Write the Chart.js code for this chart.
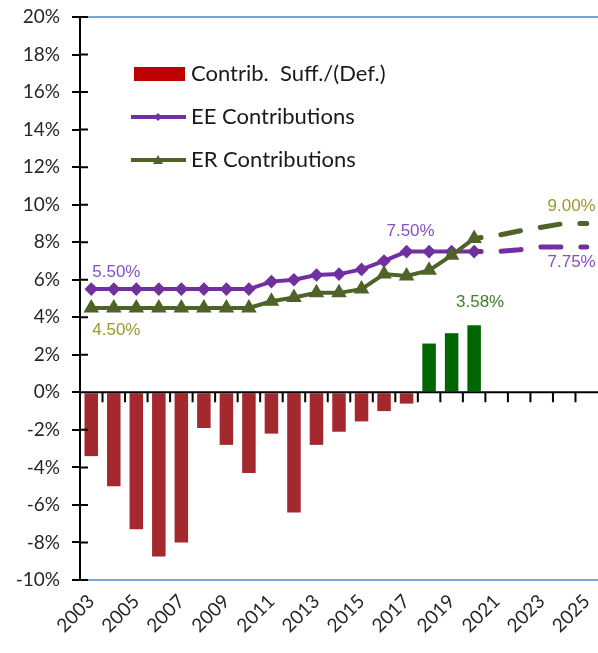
<!DOCTYPE html>
<html>
<head>
<meta charset="utf-8">
<script src="https://cdn.jsdelivr.net/npm/chart.js@4/dist/chart.umd.min.js"></script>
<style>
  body { margin: 0; background: #fff; }
  #wrap { width: 598px; height: 653px; }
</style>
</head>
<body>
<div id="wrap"><canvas id="contrib-chart"></canvas></div>
<script>
// Plan years
const years = ["2003","2004","2005","2006","2007","2008","2009","2010","2011","2012","2013",
  "2014","2015","2016","2017","2018","2019","2020","2021","2022","2023","2024","2025"];

// Contribution sufficiency / (deficiency), % of pay
const suffDef = [-3.4, -5.0, -7.3, -8.75, -8.0, -1.9, -2.8, -4.3, -2.2, -6.4, -2.8,
  -2.1, -1.55, -1.0, -0.6, 2.6, 3.15, 3.58, null, null, null, null, null];

// Employee contribution rate, % of pay (2020 on is projected)
const eeRate = [5.5, 5.5, 5.5, 5.5, 5.5, 5.5, 5.5, 5.5, 5.9, 6.0, 6.25,
  6.3, 6.55, 7.0, 7.5, 7.5, 7.5, 7.5, 7.5, 7.6, 7.75, 7.75, 7.75];

// Employer contribution rate, % of pay (2020 on is projected)
const erRate = [4.5, 4.5, 4.5, 4.5, 4.5, 4.5, 4.5, 4.5, 4.85, 5.05, 5.3,
  5.3, 5.5, 6.3, 6.2, 6.5, 7.3, 8.2, 8.35, 8.6, 8.8, 9.0, 9.0];

const yTicks = [-10, -8, -6, -4, -2, 0, 2, 4, 6, 8, 10, 12, 14, 16, 18, 20];

const lastActual = 17; // index of 2020, projections are dashed after it
const tickFont = { family: "Lato", size: 19 };
const labelFont = "17px 'Liberation Sans'";

// Point labels drawn next to chosen points
const pointLabels = [
  { ds: 1, i: 0, text: "5.50%", color: "#8650C4", align: "left", dx: 1, dy: -17 },
  { ds: 2, i: 0, text: "4.50%", color: "#9C9832", align: "left", dx: 1, dy: 22 },
  { ds: 1, i: 14, text: "7.50%", color: "#8650C4", align: "center", dx: 4, dy: -20 },
  { ds: 2, i: 22, text: "9.00%", color: "#9C9832", align: "right", dx: 9, dy: -17 },
  { ds: 1, i: 22, text: "7.75%", color: "#8650C4", align: "right", dx: 9, dy: 15 },
  { ds: 0, i: 17, text: "3.58%", color: "#3F7F2A", align: "center", dx: 6, dy: -23 }
];

// Draws the zero line, axis cross ticks, the point labels and the legend
const decorPlugin = {
  id: "decor",
  afterDatasetsDraw(chart) {
    const ctx = chart.ctx;
    const area = chart.chartArea;
    const x = chart.scales.x;
    const y = chart.scales.y;
    const y0 = y.getPixelForValue(0);

    ctx.save();
    ctx.strokeStyle = "#000";
    ctx.lineWidth = 2;
    ctx.beginPath();
    ctx.moveTo(area.left, y0);
    ctx.lineTo(area.right, y0);
    // category boundary ticks under the zero line
    for (let i = 0; i < years.length - 1; i++) {
      const bx = (x.getPixelForValue(i) + x.getPixelForValue(i + 1)) / 2;
      ctx.moveTo(bx, y0);
      ctx.lineTo(bx, y0 + 10);
    }
    // inner half of the y axis ticks
    yTicks.forEach(function(v) {
      const ty = y.getPixelForValue(v);
      ctx.moveTo(area.left, ty);
      ctx.lineTo(area.left + 8, ty);
    });
    ctx.stroke();

    // point labels
    ctx.font = labelFont;
    ctx.textBaseline = "middle";
    pointLabels.forEach(function(lb) {
      const el = chart.getDatasetMeta(lb.ds).data[lb.i];
      ctx.fillStyle = lb.color;
      ctx.textAlign = lb.align;
      ctx.fillText(lb.text, el.x + lb.dx, el.y + lb.dy);
    });

    // legend inside the plot
    const lx = area.left + 51;
    const ly = area.top + 57;
    const ds = chart.data.datasets;
    ctx.font = "22px Lato";
    ctx.textAlign = "left";
    ctx.fillStyle = "#C00000";
    ctx.fillRect(lx + 3, ly - 7, 51, 14);
    ctx.fillStyle = "#1a1a1a";
    ctx.fillText(ds[0].label, lx + 60, ly);

    [1, 2].forEach(function(k, n) {
      const yy = ly + 43 * (n + 1);
      ctx.strokeStyle = ds[k].borderColor;
      ctx.lineWidth = 4;
      ctx.beginPath();
      ctx.moveTo(lx, yy);
      ctx.lineTo(lx + 55, yy);
      ctx.stroke();
      ctx.fillStyle = ds[k].borderColor;
      ctx.beginPath();
      if (k === 1) {
        ctx.moveTo(lx + 27, yy - 4);
        ctx.lineTo(lx + 31, yy);
        ctx.lineTo(lx + 27, yy + 4);
        ctx.lineTo(lx + 23, yy);
      } else {
        ctx.moveTo(lx + 27, yy - 5);
        ctx.lineTo(lx + 32, yy + 4);
        ctx.lineTo(lx + 22, yy + 4);
      }
      ctx.closePath();
      ctx.fill();
      ctx.fillStyle = "#1a1a1a";
      ctx.fillText(ds[k].label, lx + 60, yy);
    });
    ctx.restore();
  }
};

const projected = {
  borderDash: function(c) { return c.p0DataIndex >= lastActual ? [20, 20] : undefined; },
  borderDashOffset: function(c) { return c.p0DataIndex >= lastActual ? 13 : 0; },
  borderWidth: function(c) { return c.p0DataIndex >= lastActual ? 5 : 4; }
};

const chart = new Chart(document.getElementById("contrib-chart"), {
  type: "bar",
  data: {
    labels: years,
    datasets: [
      {
        type: "bar",
        label: "Contrib.  Suff./(Def.)",
        data: suffDef,
        order: 2,
        backgroundColor: function(c) {
          return c.raw >= 0 ? "#006600" : "#A4292F";
        },
        borderWidth: 0,
        barPercentage: 0.6,
        categoryPercentage: 1.0
      },
      {
        type: "line",
        label: "EE Contributions",
        data: eeRate,
        order: 1,
        clip: false,
        borderColor: "#7030A0",
        backgroundColor: "#7030A0",
        borderWidth: 4,
        borderCapStyle: "round",
        tension: 0,
        pointStyle: "rectRot",
        pointRadius: function(c) { return c.dataIndex <= lastActual ? 4 : 0; },
        segment: projected
      },
      {
        type: "line",
        label: "ER Contributions",
        data: erRate,
        order: 0,
        clip: false,
        borderColor: "#4F6228",
        backgroundColor: "#4F6228",
        borderWidth: 4,
        borderCapStyle: "round",
        tension: 0,
        pointStyle: "triangle",
        pointRadius: function(c) { return c.dataIndex <= lastActual ? 5 : 0; },
        segment: projected
      }
    ]
  },
  options: {
    responsive: true,
    maintainAspectRatio: false,
    animation: false,
    layout: { autoPadding: false, padding: { top: 17, right: 0, left: 0, bottom: 0 } },
    plugins: {
      legend: { display: false },
      tooltip: { enabled: false }
    },
    scales: {
      x: {
        grid: { display: false },
        border: { display: false },
        ticks: {
          autoSkip: false,
          maxRotation: 45,
          minRotation: 45,
          color: "#262626",
          font: tickFont,
          padding: 2,
          callback: function(v, i) { return i % 2 === 0 ? years[i] : ""; }
        },
        afterFit: function(axis) {
          axis.height = 73;
          axis.paddingLeft = 0;
          axis.paddingRight = 0;
        }
      },
      y: {
        min: -10,
        max: 20,
        afterBuildTicks: function(axis) {
          axis.ticks = yTicks.map(function(v) { return { value: v }; });
        },
        grid: {
          color: function(c) {
            return (c.tick && (c.tick.value === 20 || c.tick.value === -10)) ? "#7FA3D6" : "rgba(0,0,0,0)";
          },
          lineWidth: 2,
          tickColor: "#000",
          tickLength: 8,
          tickWidth: 2
        },
        border: { display: true, color: "#000", width: 2 },
        ticks: {
          color: "#262626",
          font: tickFont,
          padding: 12,
          callback: function(v) { return v + "%"; }
        },
        afterFit: function(axis) {
          axis.width = 80;
          axis.paddingTop = 0;
          axis.paddingBottom = 0;
        }
      }
    }
  },
  plugins: [decorPlugin]
});
</script>
</body>
</html>
